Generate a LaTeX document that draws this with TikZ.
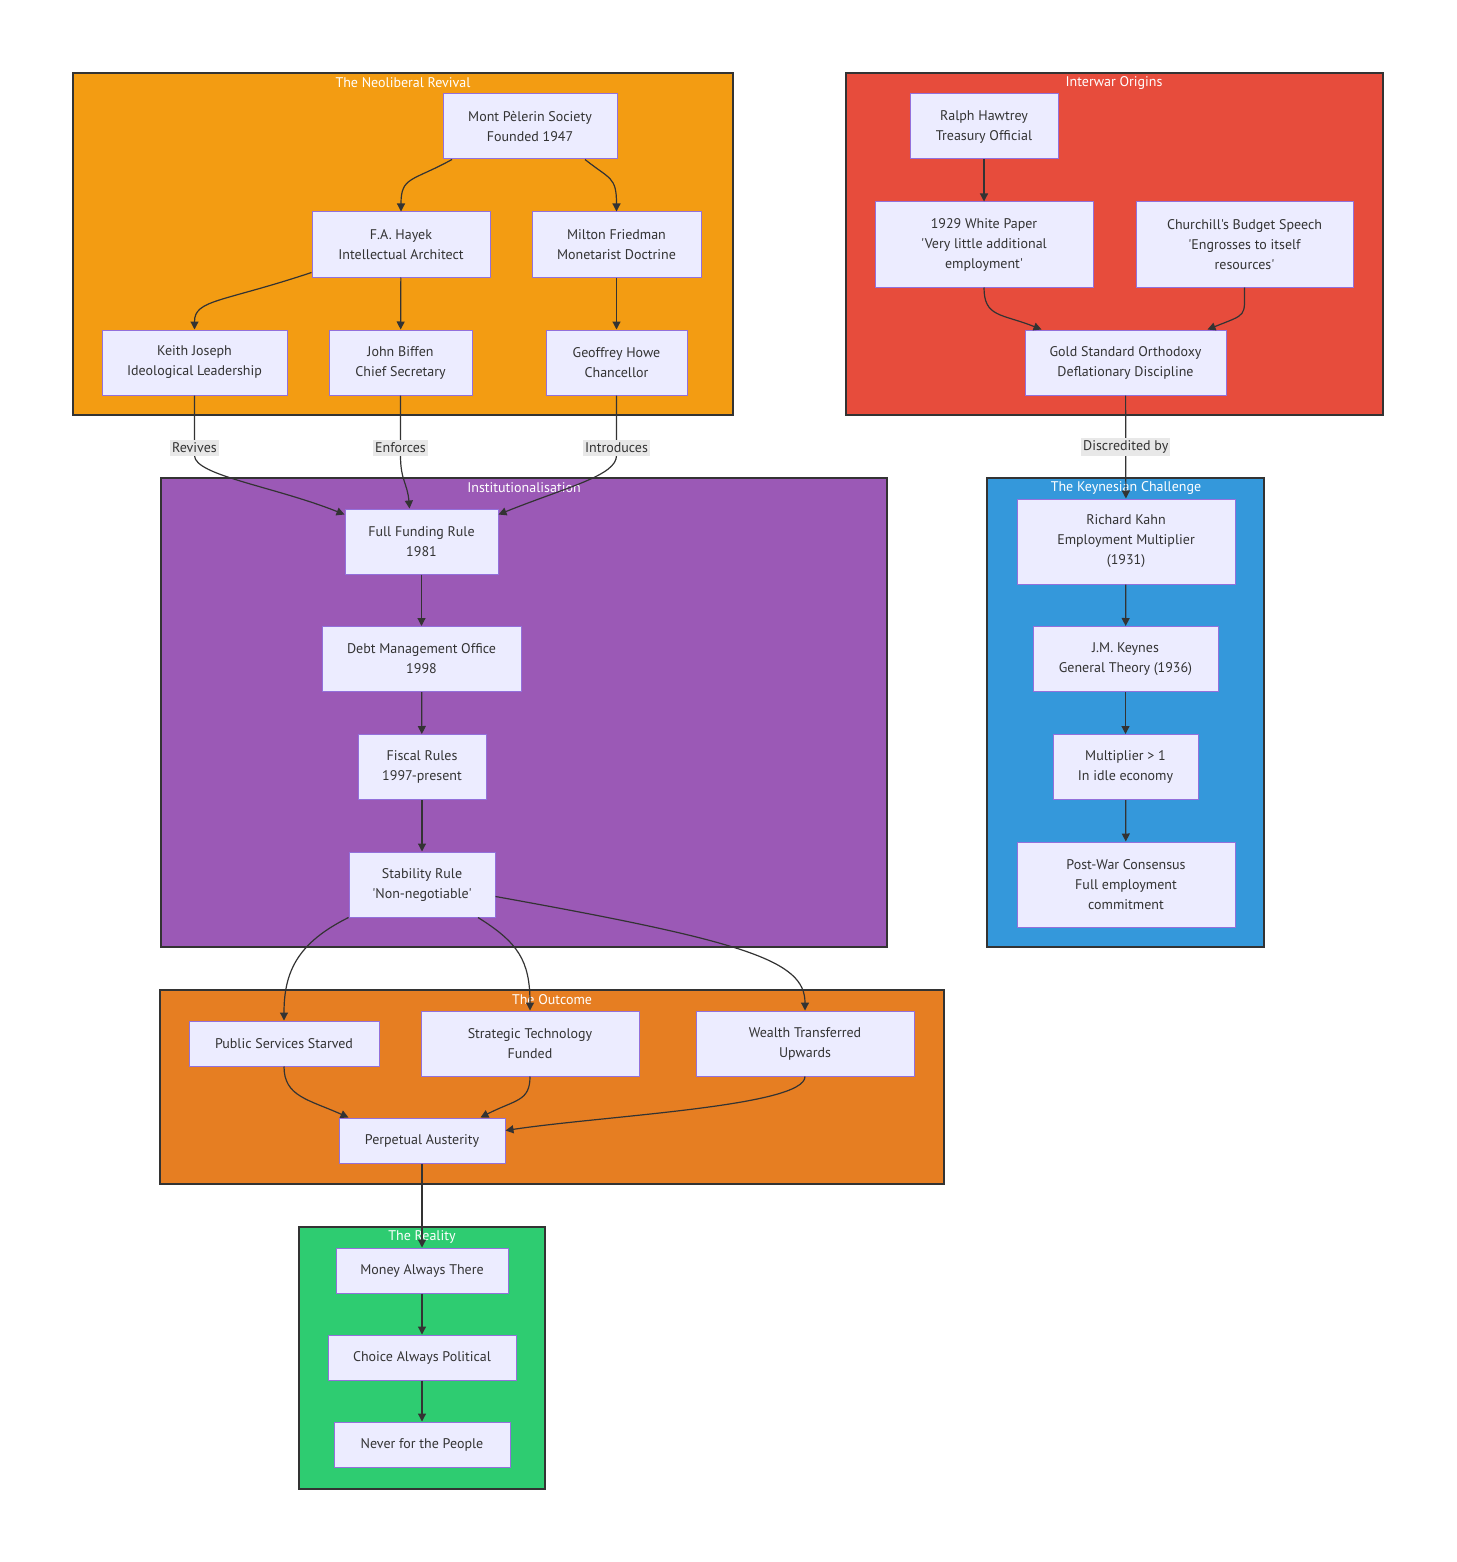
\documentclass[tikz,border=0pt]{standalone}
\usepackage{fontspec}
\usepackage{tikz}
\usetikzlibrary{arrows.meta}
\newfontfamily\mfont{PT Sans}
\definecolor{nodefill}{HTML}{ECECFF}
\definecolor{nodeline}{HTML}{9370DB}
\definecolor{edgecol}{HTML}{333333}
\definecolor{lblfill}{HTML}{E8E8E8}
\definecolor{neofill}{HTML}{F39C12}
\definecolor{interfill}{HTML}{E74C3C}
\definecolor{instfill}{HTML}{9B59B6}
\definecolor{keynesfill}{HTML}{3498DB}
\definecolor{outfill}{HTML}{E67E22}
\definecolor{realfill}{HTML}{2ECC71}

\begin{document}
\begin{tikzpicture}[x=0.5pt, y=-0.5pt,
  box/.style={draw=nodeline, fill=nodefill, line width=0.5pt, align=center,
    inner sep=0pt, minimum height=32.5pt, text=edgecol,
    font=\mfont\fontsize{7}{10}\selectfont},
  onel/.style={box, minimum height=22.5pt},
  threel/.style={box, minimum height=42.5pt},
  cluster/.style={draw=edgecol, line width=1pt},
  grouptitle/.style={text=white, inner sep=0pt, font=\mfont\fontsize{7}{10}\selectfont},
  lbl/.style={fill=lblfill, text=edgecol, inner xsep=1pt, inner ysep=1.5pt,
    font=\mfont\fontsize{7}{10}\selectfont},
  arr/.style={draw=edgecol, line width=0.6pt, -{Triangle[length=4pt,width=4pt]}}]

\useasboundingbox (0,0) rectangle (1456,1562);

\draw[cluster, fill=neofill] (73,73) rectangle (733,415);
\draw[cluster, fill=interfill] (846,73) rectangle (1383,415);
\draw[cluster, fill=instfill] (161,478) rectangle (887,947);
\draw[cluster, fill=keynesfill] (987,478) rectangle (1264,947);
\draw[cluster, fill=outfill] (160,990) rectangle (944,1184);
\draw[cluster, fill=realfill] (299,1227) rectangle (545,1489);

\node[grouptitle] (neotitle) at (403,83) {The Neoliberal Revival};
\node[grouptitle] (intertitle) at (1114,83) {Interwar Origins};
\node[grouptitle] (insttitle) at (524,488) {Institutionalisation};
\node[grouptitle] (keynestitle) at (1126,488) {The Keynesian Challenge};
\node[grouptitle] (outtitle) at (552,1000) {The Outcome};
\node[grouptitle] (realtitle) at (422,1237) {The Reality};

\draw
(530,126.5) node[box, minimum width=87pt](mps){Mont Pèlerin Society\\Founded 1947}
(401,244.5) node[box, minimum width=89pt](hayek){F.A. Hayek\\Intellectual Architect}
(616.5,244.5) node[box, minimum width=84.5pt](friedman){Milton Friedman\\Monetarist Doctrine}
(194.5,362.5) node[box, minimum width=92.5pt](joseph){Keith Joseph\\Ideological Leadership}
(400.5,362.5) node[box, minimum width=71.5pt](biffen){John Biffen\\Chief Secretary}
(616.5,362.5) node[box, minimum width=70.5pt](howe){Geoffrey Howe\\Chancellor}
(984,126.5) node[box, minimum width=74pt](hawtrey){Ralph Hawtrey\\Treasury Official}
(984,244.5) node[threel, minimum width=109pt](whitepaper){1929 White Paper\\'Very little additional\\employment'}
(1244.5,244.5) node[threel, minimum width=108.5pt](churchill){Churchill's Budget Speech\\'Engrosses to itself\\resources'}
(1125.5,362.5) node[box, minimum width=100.5pt](gold){Gold Standard Orthodoxy\\Deflationary Discipline}
(421.5,541.5) node[box, minimum width=76.5pt](ffr){Full Funding Rule\\1981}
(421.5,659) node[box, minimum width=99.5pt](dmo){Debt Management Office\\1998}
(422,767) node[box, minimum width=64pt](fiscal){Fiscal Rules\\1997-present}
(422,884.5) node[box, minimum width=73pt](stability){Stability Rule\\'Non-negotiable'}
(1126,541.5) node[threel, minimum width=109pt](kahn){Richard Kahn\\Employment Multiplier\\(1931)}
(1125.5,659) node[box, minimum width=92.5pt](keynes){J.M. Keynes\\General Theory (1936)}
(1125.5,767) node[box, minimum width=72.5pt](multiplier){Multiplier > 1\\In idle economy}
(1126,884.5) node[threel, minimum width=109pt](postwar){Post-War Consensus\\Full employment\\commitment}
(284,1043.5) node[onel, minimum width=95pt](public){Public Services Starved}
(530,1043.5) node[box, minimum width=109pt](strategic){Strategic Technology\\Funded}
(805,1043.5) node[box, minimum width=109pt](wealth){Wealth Transferred\\Upwards}
(422,1140.5) node[onel, minimum width=83pt](austerity){Perpetual Austerity}
(422,1270.5) node[onel, minimum width=86pt](money){Money Always There}
(422,1357.5) node[onel, minimum width=94pt](choice){Choice Always Political}
(422,1444.5) node[onel, minimum width=88pt](never){Never for the People};

\draw[arr] ([xshift=-39pt]mps.south) .. controls +(-40,22) and +(0,-35) .. (hayek.north);
\draw[arr] ([xshift=27.5pt]mps.south) .. controls +(25,20) and +(0,-35) .. (friedman.north);
\draw[arr] ([yshift=2.5pt]hayek.south west) .. controls +(-90,30) and +(0,-30) .. (joseph.north);
\draw[arr] (hayek) -- (biffen);
\draw[arr] (friedman) -- (howe);
\draw[arr] (hawtrey) -- (whitepaper);
\draw[arr] (whitepaper.south) .. controls +(0,30) and +(-40,-16) .. ([xshift=8.5pt]gold.north west);
\draw[arr] (churchill.south) .. controls +(0,30) and +(40,-16) .. ([xshift=-9.5pt]gold.north east);

\draw[arr] (joseph.south) -- node[lbl, pos=0.87]{Revives} ++(0,60)
  .. controls +(0,20) and +(-70,-28) .. ([yshift=-3pt]ffr.north west);
\draw[arr] (biffen.south) -- node[lbl, pos=0.87]{Enforces} ++(0,60)
  .. controls +(0,25) and +(-2,-25) .. ([xshift=-6pt]ffr.north);
\draw[arr] (howe.south) -- node[lbl, pos=0.87]{Introduces} ++(0,60)
  .. controls +(0,20) and +(70,-28) .. ([yshift=-3pt]ffr.north east);
\draw[arr] (gold) -- node[lbl]{Discredited by} (kahn);

\draw[arr] (ffr) -- (dmo);
\draw[arr] (dmo) -- (fiscal);
\draw[arr] (fiscal) -- (stability);
\draw[arr] (kahn) -- (keynes);
\draw[arr] (keynes) -- (multiplier);
\draw[arr] (multiplier) -- (postwar);

\draw[arr] (stability.south west) .. controls +(-50,25) and +(0,-50) .. (public.north);
\draw[arr] ([xshift=28pt]stability.south) .. controls +(40,25) and +(0,-50) .. (strategic.north);
\draw[arr] ([yshift=-6pt]stability.east) .. controls +(250,45) and +(0,-50) .. (wealth.north);
\draw[arr] (public.south) .. controls +(0,30) and +(-40,-18) .. ([xshift=5pt]austerity.north west);
\draw[arr] (strategic.south) .. controls +(0,25) and +(35,-18) .. ([xshift=-12.5pt]austerity.north east);
\draw[arr] (wealth.south) .. controls +(0,30) and +(100,-15) .. ([yshift=-6.5pt]austerity.north east);

\draw[arr] (austerity) -- (money);
\draw[arr] (money) -- (choice);
\draw[arr] (choice) -- (never);

\end{tikzpicture}
\end{document}
